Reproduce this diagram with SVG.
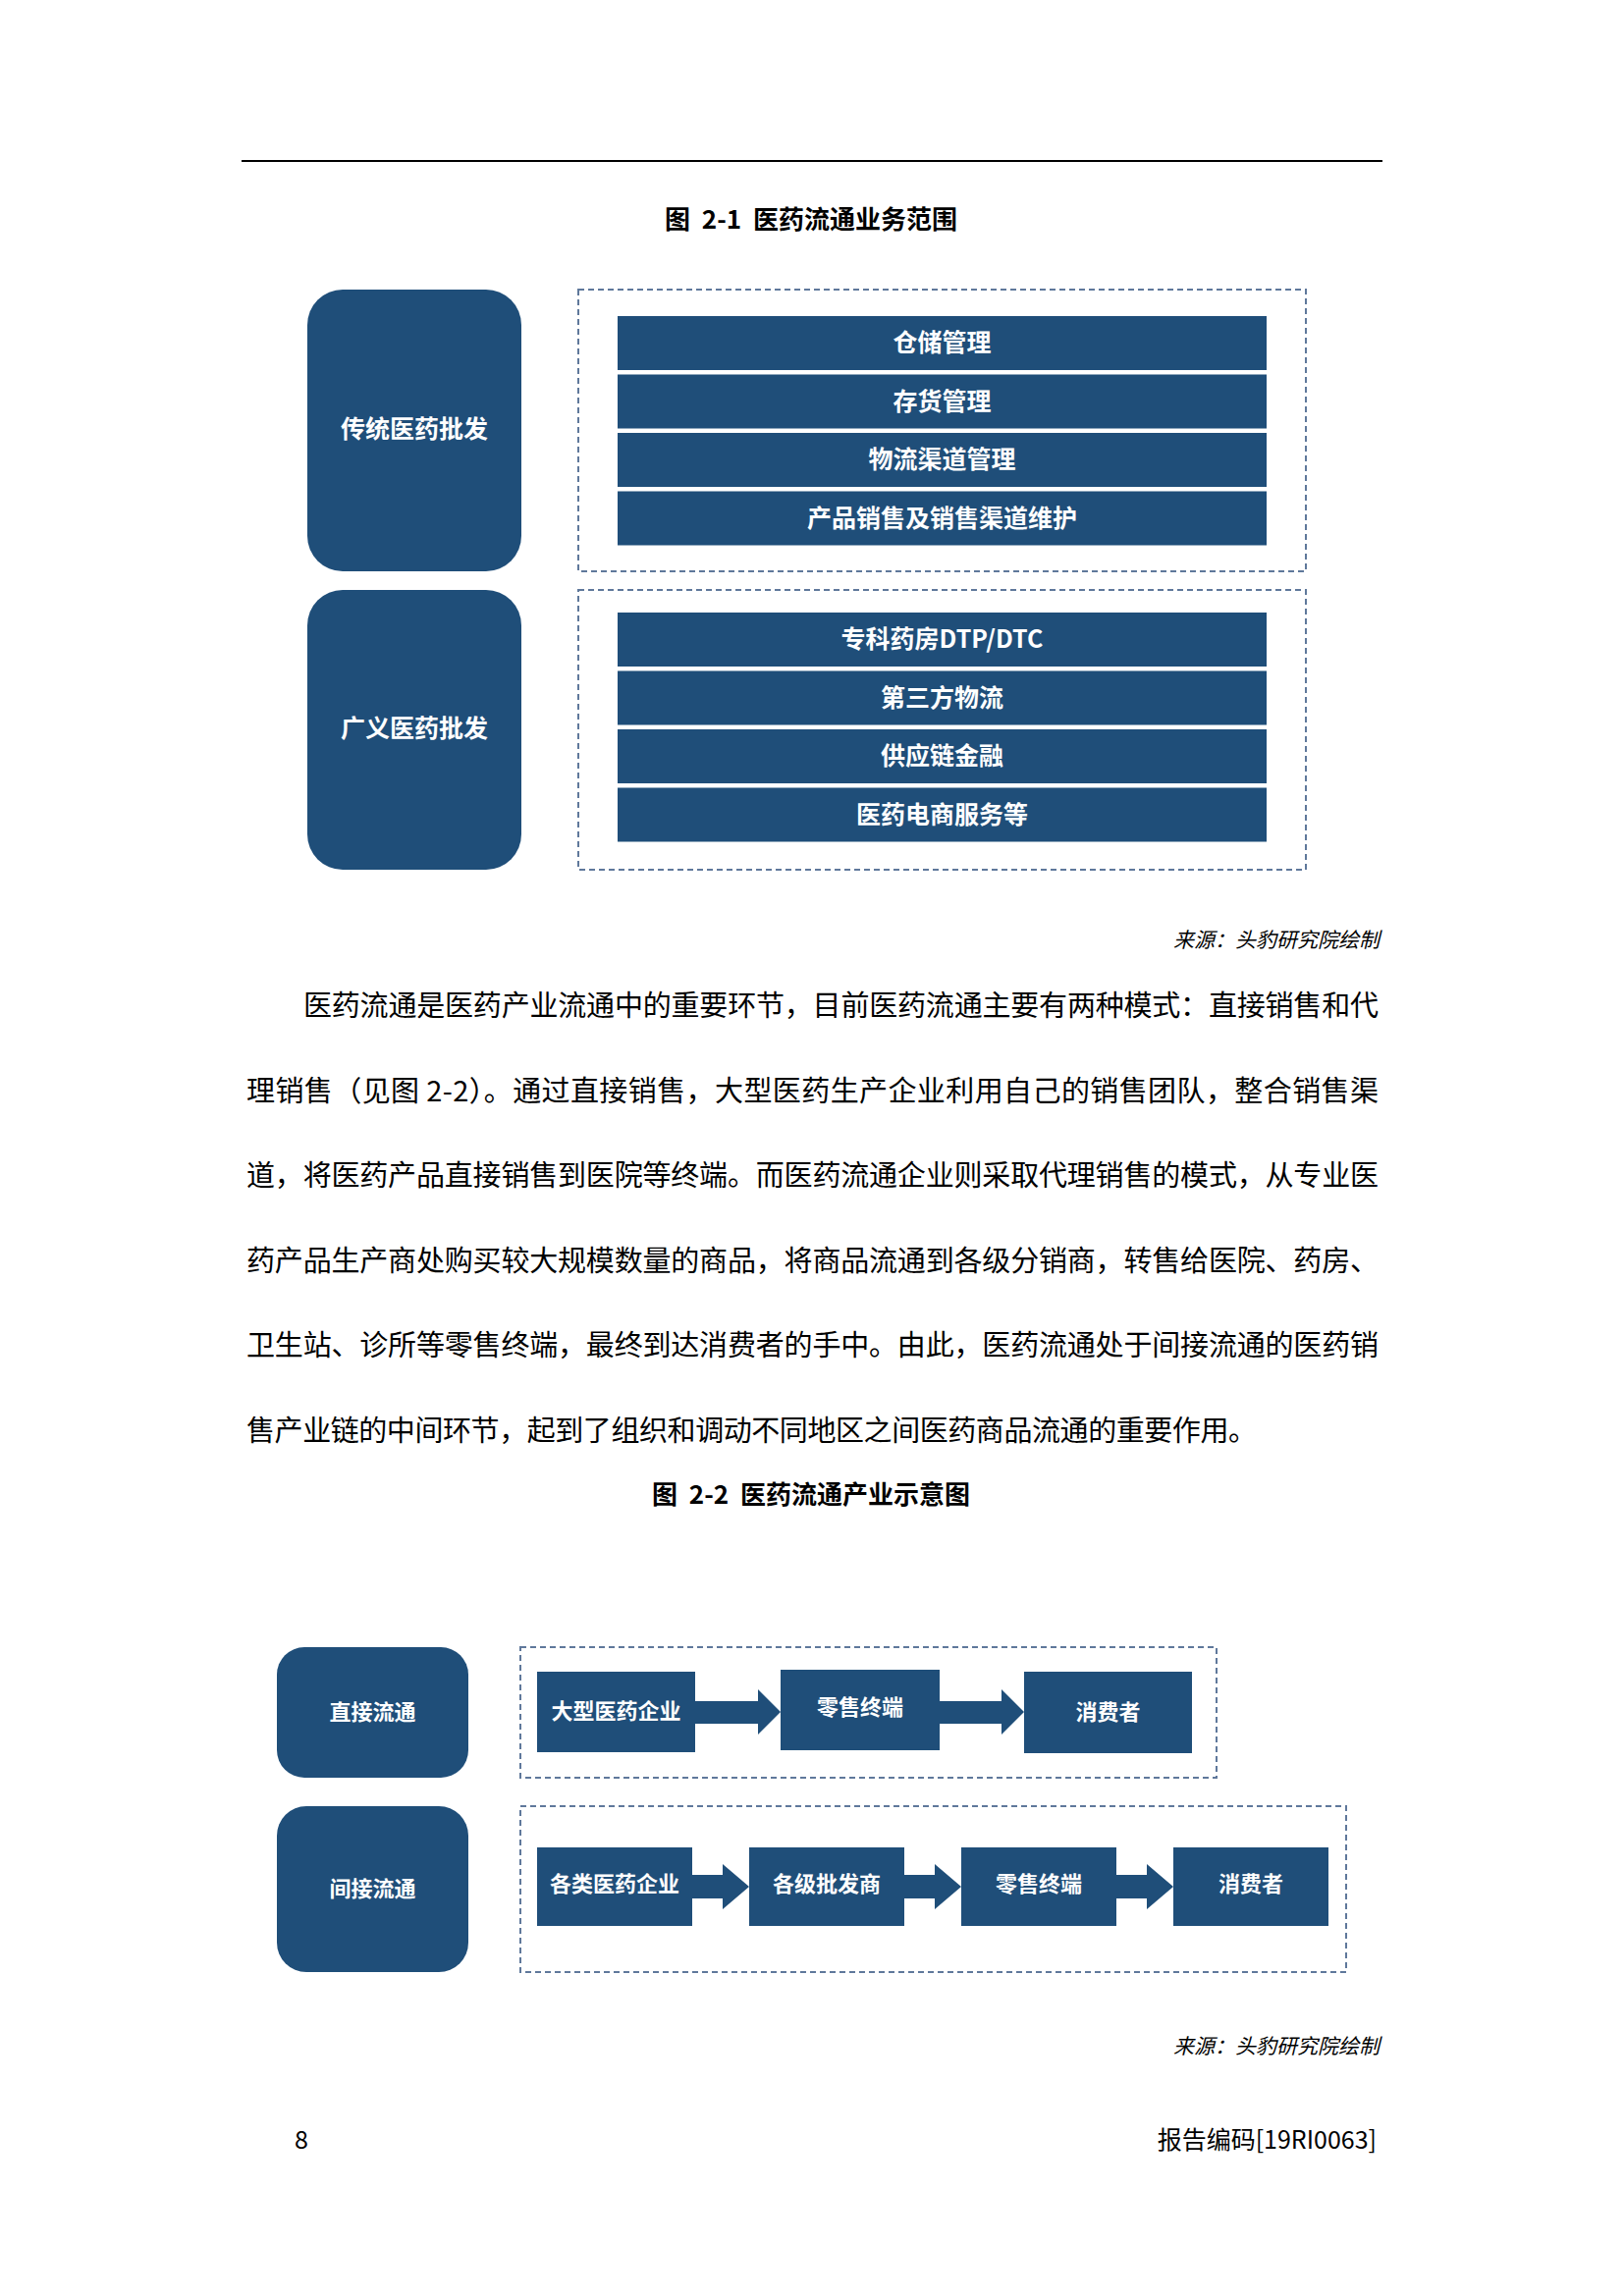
<svg xmlns="http://www.w3.org/2000/svg" width="1654" height="2339" viewBox="0 0 1654 2339">
<defs>
<style>
.bg{fill:#ffffff}
.node{fill:#1F4E79}
.dash{fill:none;stroke:#5F789B;stroke-width:2;stroke-dasharray:6 4}
.lbl{font-family:"Noto Sans CJK SC","Noto Sans",sans-serif;font-weight:bold;fill:#ffffff;text-anchor:middle;dominant-baseline:central}
.l1{font-size:25px}
.l2{font-size:22px}
.title{font-family:"Noto Sans CJK SC","Noto Sans",sans-serif;font-weight:bold;font-size:26px;fill:#000000;text-anchor:middle}
.body{font-family:"Noto Sans CJK SC","Noto Sans",sans-serif;font-size:29px;fill:#000000}
.src{font-family:"Noto Sans CJK SC","Noto Sans",sans-serif;font-style:italic;font-size:21px;fill:#000000;text-anchor:end}
.foot{font-family:"Noto Sans CJK SC","Noto Sans",sans-serif;font-size:25px;fill:#000000}
.arrow{fill:#1F4E79}
</style>
</defs>
<rect class="bg" x="0" y="0" width="1654" height="2339"/>
<line x1="246" y1="164" x2="1408" y2="164" stroke="#000000" stroke-width="2"/>
<text class="title" x="826" y="233" xml:space="preserve">图  2-1  医药流通业务范围</text>

<g id="fig1-traditional">
<rect class="node" x="313" y="295" width="218" height="287" rx="36"/>
<text class="lbl l1" x="422" y="435">传统医药批发</text>
</g>
<g id="fig1-traditional-scope">
<rect class="dash" x="589" y="295" width="741" height="287"/>
</g>
<g id="bar-cangchu"><rect class="node" x="629" y="322" width="661" height="55"/><text class="lbl l1" x="959.5" y="347">仓储管理</text></g>
<g id="bar-cunhuo"><rect class="node" x="629" y="381.5" width="661" height="55"/><text class="lbl l1" x="959.5" y="406.5">存货管理</text></g>
<g id="bar-wuliu"><rect class="node" x="629" y="441" width="661" height="55"/><text class="lbl l1" x="959.5" y="466">物流渠道管理</text></g>
<g id="bar-xiaoshou"><rect class="node" x="629" y="500.5" width="661" height="55"/><text class="lbl l1" x="959.5" y="525.5">产品销售及销售渠道维护</text></g>

<g id="fig1-broad">
<rect class="node" x="313" y="601" width="218" height="285" rx="36"/>
<text class="lbl l1" x="422" y="740">广义医药批发</text>
</g>
<g id="fig1-broad-scope">
<rect class="dash" x="589" y="601" width="741" height="285"/>
</g>
<g id="bar-dtp"><rect class="node" x="629" y="624" width="661" height="55"/><text class="lbl l1" x="959.5" y="648.5">专科药房DTP/DTC</text></g>
<g id="bar-3pl"><rect class="node" x="629" y="683.5" width="661" height="55"/><text class="lbl l1" x="959.5" y="708.5">第三方物流</text></g>
<g id="bar-finance"><rect class="node" x="629" y="743" width="661" height="55"/><text class="lbl l1" x="959.5" y="768">供应链金融</text></g>
<g id="bar-ecom"><rect class="node" x="629" y="802.5" width="661" height="55"/><text class="lbl l1" x="959.5" y="827.5">医药电商服务等</text></g>

<text class="src" x="1405" y="965">来源：头豹研究院绘制</text>

<g id="paragraph">
<text class="body" x="309" y="1035" textLength="1095" lengthAdjust="spacing">医药流通是医药产业流通中的重要环节，目前医药流通主要有两种模式：直接销售和代</text>
<text class="body" x="251" y="1122" textLength="1153" lengthAdjust="spacing">理销售（见图 2-2）。通过直接销售，大型医药生产企业利用自己的销售团队，整合销售渠</text>
<text class="body" x="251" y="1208" textLength="1153" lengthAdjust="spacing">道，将医药产品直接销售到医院等终端。而医药流通企业则采取代理销售的模式，从专业医</text>
<text class="body" x="251" y="1295" textLength="1153" lengthAdjust="spacing">药产品生产商处购买较大规模数量的商品，将商品流通到各级分销商，转售给医院、药房、</text>
<text class="body" x="251" y="1381" textLength="1153" lengthAdjust="spacing">卫生站、诊所等零售终端，最终到达消费者的手中。由此，医药流通处于间接流通的医药销</text>
<text class="body" x="251" y="1468" textLength="1029" lengthAdjust="spacing">售产业链的中间环节，起到了组织和调动不同地区之间医药商品流通的重要作用。</text>
</g>

<text class="title" x="826" y="1532" xml:space="preserve">图  2-2  医药流通产业示意图</text>

<g id="fig2-direct">
<rect class="node" x="282" y="1678" width="195" height="133" rx="28"/>
<text class="lbl l2" x="379.5" y="1741.5">直接流通</text>
</g>
<g id="fig2-direct-scope"><rect class="dash" x="530" y="1678" width="709" height="133"/></g>
<g id="d-maker"><rect class="node" x="547" y="1703" width="161" height="82"/><text class="lbl l2" x="627.5" y="1741">大型医药企业</text></g>
<g id="d-retail"><rect class="node" x="795" y="1701" width="162" height="82"/><text class="lbl l2" x="876" y="1737">零售终端</text></g>
<g id="d-consumer"><rect class="node" x="1043" y="1703" width="171" height="83"/><text class="lbl l2" x="1128.5" y="1741.5">消费者</text></g>

<g id="fig2-indirect">
<rect class="node" x="282" y="1840" width="195" height="169" rx="30"/>
<text class="lbl l2" x="379.5" y="1921.5">间接流通</text>
</g>
<g id="fig2-indirect-scope"><rect class="dash" x="530" y="1840" width="841" height="169"/></g>
<g id="i-maker"><rect class="node" x="547" y="1882" width="158" height="80"/><text class="lbl l2" x="626" y="1917">各类医药企业</text></g>
<g id="i-wholesale"><rect class="node" x="763" y="1882" width="158" height="80"/><text class="lbl l2" x="842" y="1917">各级批发商</text></g>
<g id="i-retail"><rect class="node" x="979" y="1882" width="158" height="80"/><text class="lbl l2" x="1058" y="1917">零售终端</text></g>
<g id="i-consumer"><rect class="node" x="1195" y="1882" width="158" height="80"/><text class="lbl l2" x="1274" y="1917">消费者</text></g>

<g id="connectors">
<polygon class="arrow" points="708,1733 772,1733 772,1721 795,1744 772,1767 772,1756 708,1756"/>
<polygon class="arrow" points="957,1733 1020,1733 1020,1721 1043,1744 1020,1767 1020,1756 957,1756"/>
<polygon class="arrow" points="705,1910 736,1910 736,1899 763,1922 736,1945 736,1934 705,1934"/>
<polygon class="arrow" points="921,1910 952,1910 952,1899 979,1922 952,1945 952,1934 921,1934"/>
<polygon class="arrow" points="1137,1910 1168,1910 1168,1899 1195,1922 1168,1945 1168,1934 1137,1934"/>
</g>

<text class="src" x="1405" y="2092">来源：头豹研究院绘制</text>
<text class="foot" x="300" y="2189">8</text>
<text class="foot" x="1402" y="2189" text-anchor="end">报告编码[19RI0063]</text>
</svg>
